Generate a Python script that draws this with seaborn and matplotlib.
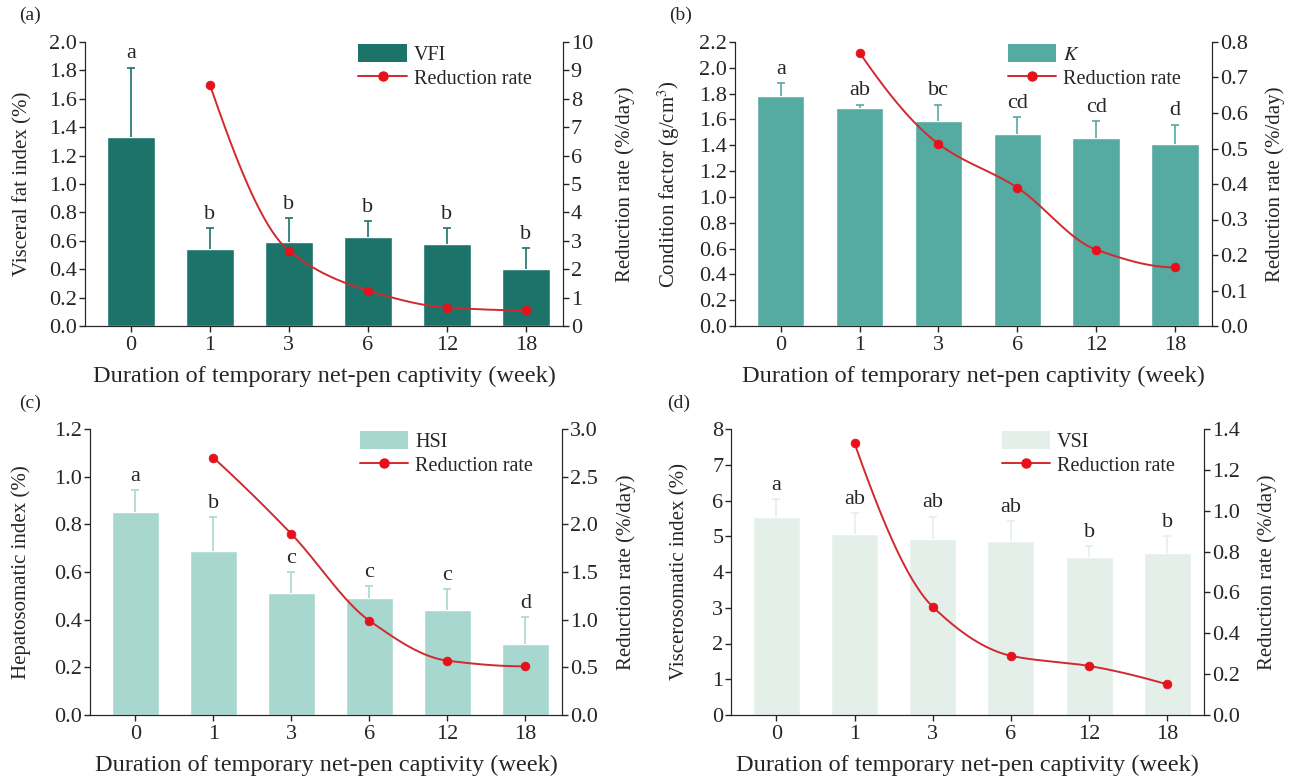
import numpy as np
import matplotlib
matplotlib.use("Agg")
import matplotlib.pyplot as plt
import seaborn as sns
from matplotlib.patches import Patch
from matplotlib.lines import Line2D

# ---- data ----
weeks = ["0", "1", "3", "6", "12", "18"]

vfi_mean = [1.33, 0.54, 0.59, 0.63, 0.58, 0.40]
vfi_sd = [0.49, 0.15, 0.17, 0.11, 0.11, 0.15]
vfi_rate = [8.5, 2.65, 1.25, 0.65, 0.55]
vfi_letters = ["a", "b", "b", "b", "b", "b"]

k_mean = [1.78, 1.69, 1.59, 1.49, 1.46, 1.41]
k_sd = [0.10, 0.025, 0.125, 0.13, 0.13, 0.15]
k_rate = [0.77, 0.513, 0.39, 0.215, 0.165]
k_letters = ["a", "ab", "bc", "cd", "cd", "d"]

hsi_mean = [0.85, 0.69, 0.51, 0.49, 0.44, 0.30]
hsi_sd = [0.095, 0.14, 0.09, 0.05, 0.09, 0.11]
hsi_rate = [2.70, 1.90, 0.99, 0.57, 0.51]
hsi_letters = ["a", "b", "c", "c", "c", "d"]

vsi_mean = [5.55, 5.05, 4.93, 4.88, 4.42, 4.52]
vsi_sd = [0.50, 0.60, 0.62, 0.54, 0.30, 0.48]
vsi_rate = [1.33, 0.53, 0.29, 0.24, 0.15]
vsi_letters = ["a", "ab", "ab", "ab", "b", "b"]

sns.set_style("ticks")
plt.rcParams["font.family"] = ["Liberation Serif", "DejaVu Serif"]
plt.rcParams["mathtext.fontset"] = "stix"

RED_LINE = "#d02a2f"
RED_DOT = "#e8101a"
W, H = 1306, 781


def pchip_curve(y, n=60):
    # monotone cubic (Fritsch-Carlson) through the points, unit spacing
    y = np.asarray(y, dtype=float)
    d = np.diff(y)
    m = np.zeros_like(y)
    for i in range(1, len(y) - 1):
        if d[i - 1] * d[i] > 0:
            m[i] = 2.0 / (1.0 / d[i - 1] + 1.0 / d[i])
    m[0] = (3 * d[0] - d[1]) / 2
    if np.sign(m[0]) != np.sign(d[0]):
        m[0] = 0
    m[-1] = (3 * d[-1] - d[-2]) / 2
    if np.sign(m[-1]) != np.sign(d[-1]):
        m[-1] = 0
    xs, ys = [], []
    for i in range(len(y) - 1):
        t = np.linspace(0, 1, n)
        h00 = 2 * t**3 - 3 * t**2 + 1
        h10 = t**3 - 2 * t**2 + t
        h01 = -2 * t**3 + 3 * t**2
        h11 = t**3 - t**2
        xs.append(i + t)
        ys.append(h00 * y[i] + h10 * m[i] + h01 * y[i + 1] + h11 * m[i + 1])
    return np.concatenate(xs), np.concatenate(ys)


def panel(px, tag, tagpos, mean, sd, rate, letters, color, ylab, ylim, yticks,
          rlim, rticks, rfmt, leg_label, yfmt, lcoord, rcoord):
    # px = (left, right, top, bottom) of the axes in pixels
    l, r, t, b = px
    ax = fig.add_axes([l / W, 1 - b / H, (r - l) / W, (b - t) / H])
    sns.barplot(x=weeks, y=mean, color=color, width=0.6, ax=ax,
                errorbar=None, saturation=1)
    pos = np.arange(len(weeks))
    eb = ax.errorbar(pos, mean, yerr=[np.zeros(len(sd)), sd], fmt="none",
                     ecolor=color, elinewidth=1.2, capsize=3, capthick=1.2)
    eb[1][0].set_visible(False)  # no cap at the bar top
    for p, m, s, lab in zip(pos, mean, sd, letters):
        ax.annotate(lab, (p, m + s), xytext=(0, 3), textcoords="offset points",
                    ha="center", va="bottom", fontsize=16)
    ax.set_ylim(*ylim)
    ax.set_yticks(yticks)
    ax.set_yticklabels([yfmt.format(v) for v in yticks])
    ax.set_xlim(-0.58, 5.47)
    ax.set_ylabel(ylab, fontsize=15)
    ax.yaxis.set_label_coords(lcoord, 0.5)
    ax.set_xlabel("Duration of temporary net-pen captivity (week)",
                  fontsize=17.5)
    ax.xaxis.set_label_coords(0.5, -40 / (b - t))
    ax.tick_params(axis="x", labelsize=16, length=4, width=1, pad=3.5)
    ax.tick_params(axis="y", labelsize=16, length=4, width=1, pad=1.5)
    ax.spines["top"].set_visible(False)

    ax2 = ax.twinx()
    cx, cy = pchip_curve(rate)
    ax2.plot(cx + 1, cy, color=RED_LINE, lw=1.4, zorder=3)
    sns.scatterplot(x=pos[1:], y=rate, color=RED_DOT, s=40, edgecolor=RED_DOT,
                    ax=ax2, zorder=4)
    ax2.set_ylim(*rlim)
    ax2.set_yticks(rticks)
    ax2.set_yticklabels([rfmt.format(v) for v in rticks])
    ax2.set_ylabel("Reduction rate (%/day)", fontsize=15)
    ax2.yaxis.set_label_coords(rcoord, 0.5)
    ax2.tick_params(labelsize=16, length=4, width=1, pad=1.5)
    ax2.spines["top"].set_visible(False)
    ax.set_xticks(pos)
    ax.set_xticklabels(weeks)

    handles = [Patch(facecolor=color, edgecolor="none"),
               Line2D([], [], color=RED_LINE, lw=1.4, marker="o",
                      markersize=6.5, markerfacecolor=RED_DOT,
                      markeredgecolor=RED_DOT)]
    ax2.legend(handles, [leg_label, "Reduction rate"], loc="upper left",
               bbox_to_anchor=(0.572, 0.992), frameon=False, fontsize=14.5,
               borderpad=0, borderaxespad=0, handlelength=2.4,
               handleheight=1.0, handletextpad=0.35, labelspacing=0.12)
    fig.text(tagpos[0] / W, 1 - tagpos[1] / H, tag, fontsize=14,
             va="center", ha="left")


fig = plt.figure(figsize=(W / 100, H / 100), dpi=100)

panel((85, 563, 42, 326), "(a)", (19, 15), vfi_mean, vfi_sd, vfi_rate,
      vfi_letters, "#1b7369", "Visceral fat index (%)", (0, 2.0),
      np.arange(0, 2.01, 0.2), (0, 10), np.arange(0, 11, 1), "{:.0f}",
      "VFI", "{:.1f}", -0.11, 1.11)
panel((735, 1212, 42, 326), "(b)", (669, 15), k_mean, k_sd, k_rate,
      k_letters, "#55aaa1", "Condition factor (g/cm$^3$)", (0, 2.2),
      np.arange(0, 2.21, 0.2), (0, 0.8), np.arange(0, 0.81, 0.1), "{:.1f}",
      "$K$", "{:.1f}", -0.112, 1.112)
panel((90, 562, 429, 715), "(c)", (19, 403), hsi_mean, hsi_sd, hsi_rate,
      hsi_letters, "#a8d7cf", "Hepatosomatic index (%)", (0, 1.2),
      np.arange(0, 1.21, 0.2), (0, 3.0), np.arange(0, 3.01, 0.5), "{:.1f}",
      "HSI", "{:.1f}", -0.124, 1.116)
panel((731, 1204, 429, 715), "(d)", (667, 403), vsi_mean, vsi_sd, vsi_rate,
      vsi_letters, "#e5efea", "Viscerosomatic index (%)", (0, 8),
      np.arange(0, 8.1, 1), (0, 1.4), np.arange(0, 1.41, 0.2), "{:.1f}",
      "VSI", "{:.0f}", -0.088, 1.112)

fig.savefig("out.png", dpi=100)
